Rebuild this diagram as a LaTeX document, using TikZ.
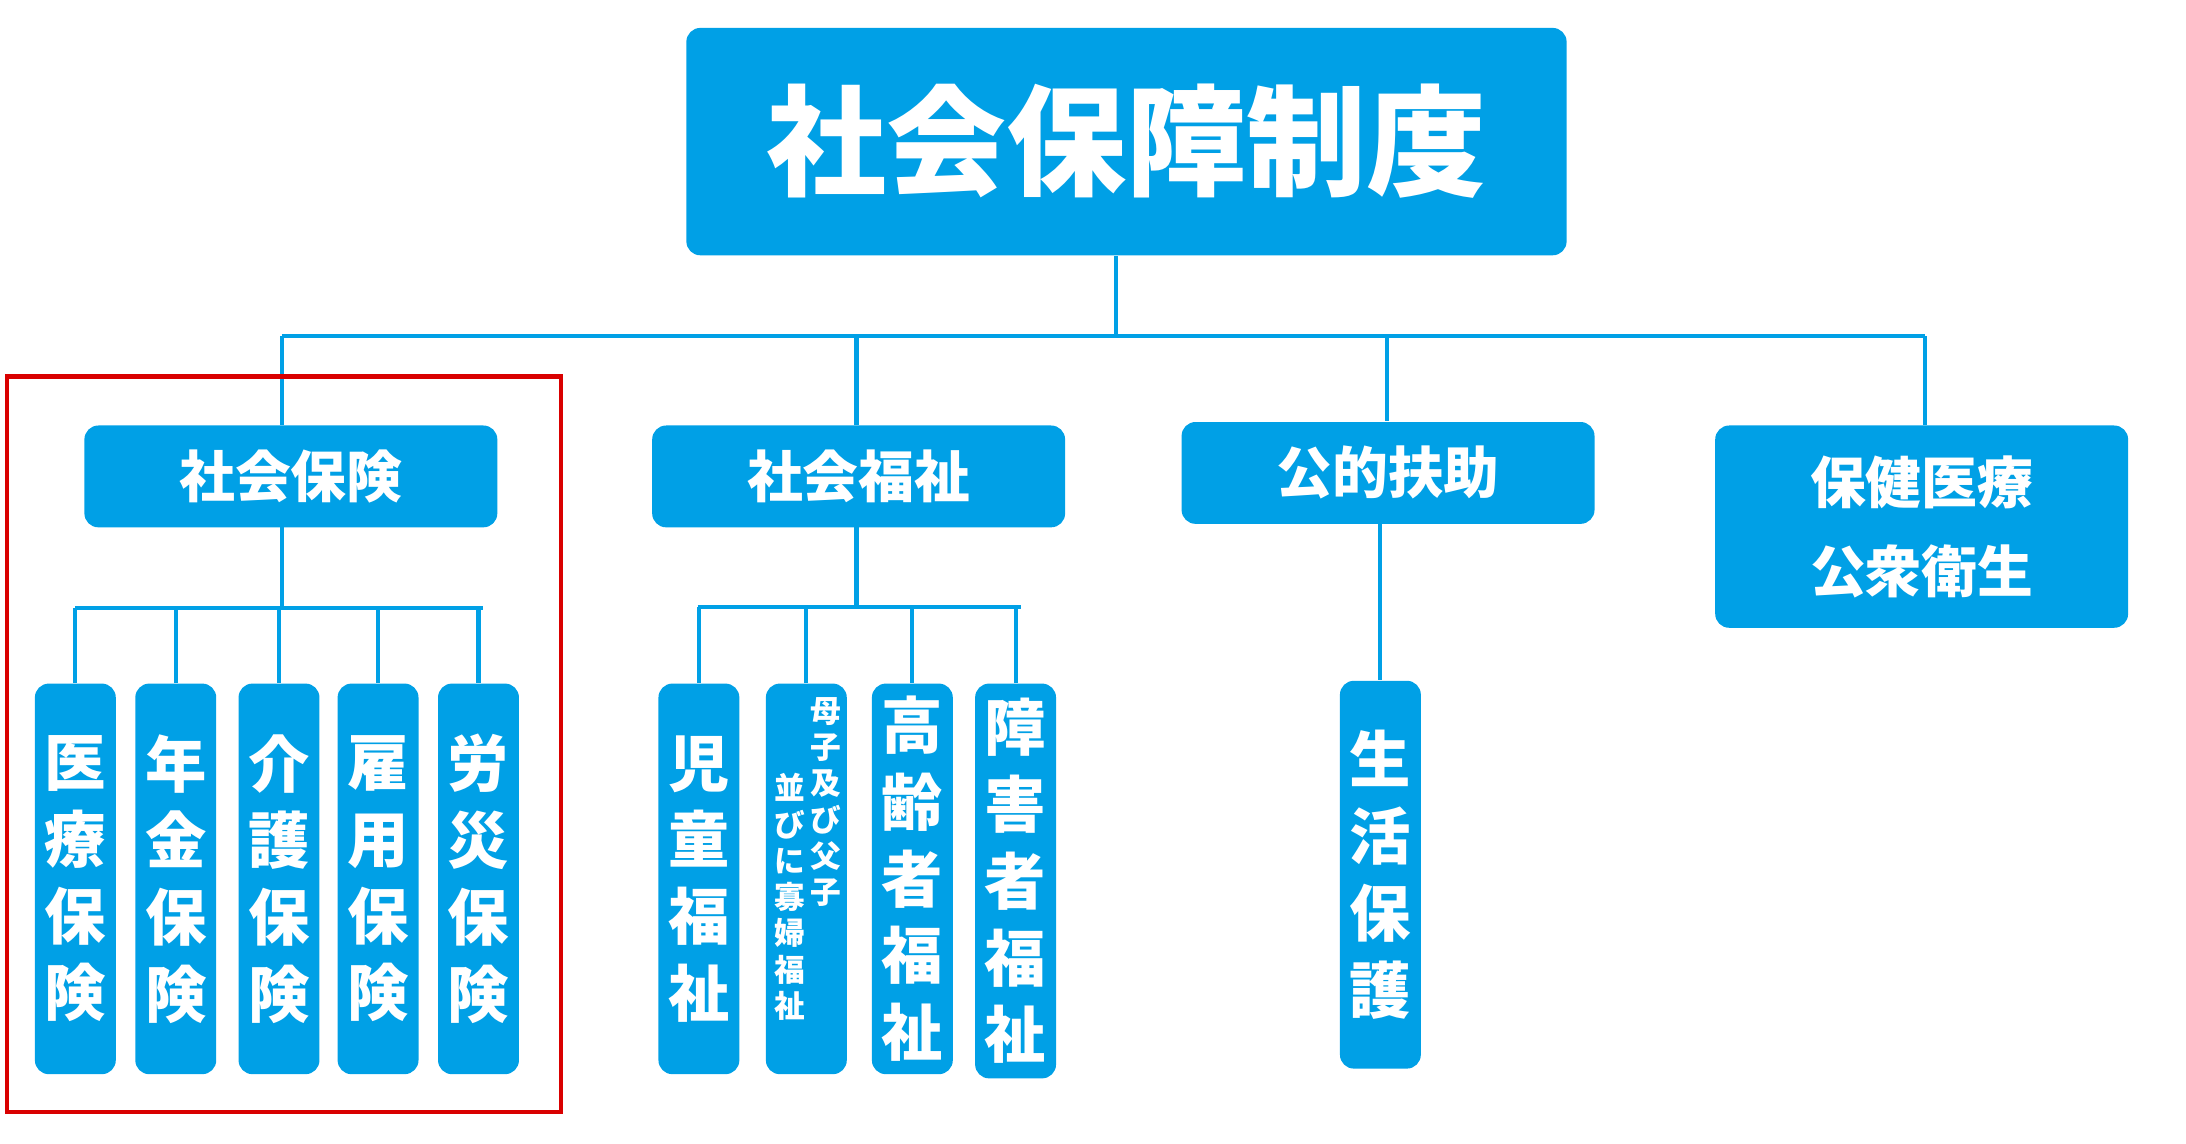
\documentclass[tikz,border=0pt]{standalone}
\usepackage{fontspec}
\newfontfamily\cjk{Noto Sans CJK JP}
\definecolor{bl}{RGB}{0,160,230}
\tikzset{
 box/.style={fill=bl,rounded corners=5pt,text=white,font=\cjk\bfseries,align=center,inner sep=0pt},
 ln/.style={draw=bl,line width=1.5pt},
}
\newcommand{\leaf}[5]{\node[box,minimum width=29pt,minimum height=#4,font=\cjk\bfseries\fontsize{22}{27.5}\selectfont] (#1) at (#2,#3) {#5};}
\begin{document}
\begin{tikzpicture}[x=0.5pt,y=-0.5pt]
\useasboundingbox (0,0) rectangle (1567,820);
\node[box,minimum width=315.5pt,minimum height=81.5pt,font=\cjk\bfseries\fontsize{43}{50}\selectfont] (top) at (807.5,101.5) {社会保障制度};
\tikzset{l2/.style={box,minimum width=148pt,minimum height=36.5pt,font=\cjk\bfseries\fontsize{20}{32}\selectfont}}
\node[l2] (a) at (208.5,341.5) {社会保険};
\node[l2] (b) at (615.5,341.5) {社会福祉};
\node[l2] (c) at (995,339) {公的扶助};
\node[l2,minimum height=72.5pt] (d) at (1377.5,377.5) {保健医療\\公衆衛生};
\coordinate (j) at (800,241);
\draw[ln] (top.south -| j) -- (j);
\draw[ln] (202,241) -- (1380,241);
\draw[ln] (202,241) -- (202,305);
\draw[ln] (614,241) -- (614,305);
\draw[ln] (994,241) -- (994,302);
\draw[ln] (1380,241) -- (1380,305);
% social insurance
\leaf{a1}{54}{630}{140pt}{医\\療\\保\\険}
\leaf{a2}{126}{630}{140pt}{年\\金\\保\\険}
\leaf{a3}{200}{630}{140pt}{介\\護\\保\\険}
\leaf{a4}{271}{630}{140pt}{雇\\用\\保\\険}
\leaf{a5}{343}{630}{140pt}{労\\災\\保\\険}
\draw[ln] (202,378) -- (202,436);
\draw[ln] (54,436) -- (346,436);
\foreach \n in {a1,a2,a3,a4,a5} \draw[ln] (\n.north |- 0,436) -- (\n.north);
\draw[red!85!black,line width=1.6pt] (5,270) rectangle (402,797);
% welfare
\leaf{b1}{501}{630}{140pt}{児\\童\\福\\祉}
\node[box,minimum width=29pt,minimum height=140pt] (b2) at (578,630) {};
\node[text=white,font=\cjk\bfseries\fontsize{11}{13}\selectfont,align=center,inner sep=0pt] (b2r) at (592,575) {母\\子\\及\\び\\父\\子};
\node[text=white,font=\cjk\bfseries\fontsize{11}{13}\selectfont,align=center,inner sep=0pt] (b2l) at (566,643) {並\\び\\に\\寡\\婦\\福\\祉};
\leaf{b3}{654}{630}{140pt}{高\\齢\\者\\福\\祉}
\leaf{b4}{728}{631.5}{141.5pt}{障\\害\\者\\福\\祉}
\draw[ln] (614,378) -- (614,435);
\draw[ln] (500,435) -- (732,435);
\foreach \n in {b1,b2,b3,b4} \draw[ln] (\n.north |- 0,435) -- (\n.north);
% assistance
\leaf{c1}{989.5}{627}{139pt}{生\\活\\保\\護}
\draw[ln] (c1.north |- c.south) -- (c1.north);
\end{tikzpicture}
\end{document}
